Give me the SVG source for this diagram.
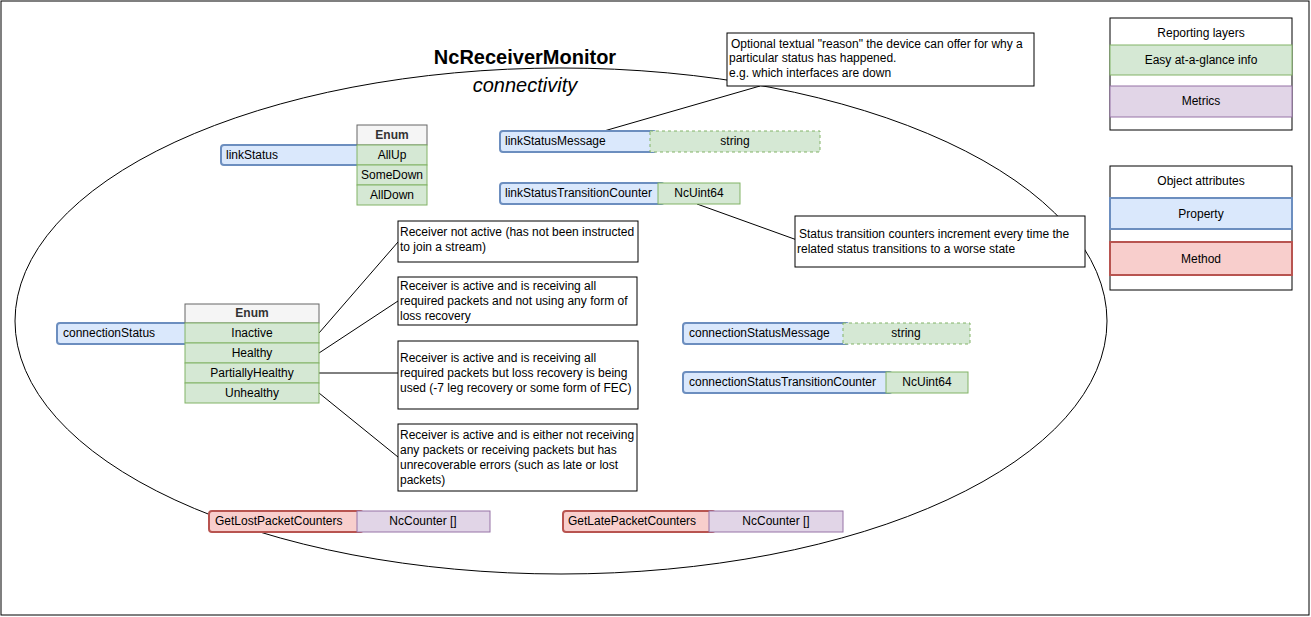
<svg xmlns="http://www.w3.org/2000/svg" width="1311" height="617" viewBox="0 0 1311 617">
<style>
text{font-family:"Liberation Sans",Arial,sans-serif;font-size:12px;fill:#000}
.c{text-anchor:middle}
.p{fill:#dae8fc;stroke:#6c8ebf;stroke-width:2}
.g{fill:#d5e8d4;stroke:#82b366}
.gd{fill:#d5e8d4;stroke:#82b366;stroke-dasharray:3 3}
.u{fill:#e1d5e7;stroke:#9673a6}
.r{fill:#f8cecc;stroke:#b85450;stroke-width:2}
.h{fill:#f5f5f5;stroke:#666}
.n{fill:#fff;stroke:#000}
.l{stroke:#000;fill:none}
</style>
<rect x="1" y="1" width="1308" height="614" fill="#fff" stroke="#000"/>
<ellipse cx="561" cy="321" rx="546" ry="253" fill="none" stroke="#000"/>
<text x="525" y="64" class="c" style="font-size:20px;font-weight:bold">NcReceiverMonitor</text>
<text x="525" y="92" class="c" style="font-size:20px;font-style:italic">connectivity</text>
<g id="connectors">
<path class="l" d="M604 131L760 86M697 204L797 240M319 333L398 242M319 353L398 301M319 373H398M319 393L398 457"/>
</g>
<g id="linkStatus">
<rect class="p" x="221" y="145" width="142" height="20" rx="3"/>
<text x="226" y="159">linkStatus</text>
<rect class="h" x="357" y="125" width="70" height="20"/><text x="392" y="139" class="c" style="font-weight:bold;fill:#333">Enum</text>
<rect class="g" x="357" y="145" width="70" height="20"/><text x="392" y="159" class="c">AllUp</text>
<rect class="g" x="357" y="165" width="70" height="20"/><text x="392" y="179" class="c">SomeDown</text>
<rect class="g" x="357" y="185" width="70" height="20"/><text x="392" y="199" class="c">AllDown</text>
</g>
<g id="reasonNote">
<rect class="n" x="727" y="33" width="307" height="53"/>
<text x="731" y="48"> Optional textual "reason" the device can offer for why a</text>
<text x="729" y="62">particular status has happened.</text>
<text x="729" y="77">e.g. which interfaces are down</text>
</g>
<g id="linkStatusMessage">
<rect class="p" x="500" y="131" width="156" height="21" rx="3"/>
<text x="505" y="145">linkStatusMessage</text>
<rect class="gd" x="650" y="131" width="170" height="21"/><text x="735" y="145" class="c">string</text>
</g>
<g id="linkStatusTransitionCounter">
<rect class="p" x="500" y="183" width="164" height="21" rx="3"/>
<text x="505" y="197">linkStatusTransitionCounter</text>
<rect class="g" x="658" y="183" width="82" height="21"/><text x="699" y="197" class="c">NcUint64</text>
</g>
<g id="transitionNote">
<rect class="n" x="795" y="216" width="290" height="51"/>
<text x="799" y="238">Status transition counters increment every time the</text>
<text x="797" y="253">related status transitions to a worse state</text>
</g>
<g id="connectionStatus">
<rect class="p" x="57" y="323" width="134" height="21" rx="3"/>
<text x="63" y="337">connectionStatus</text>
<rect class="h" x="185" y="304" width="134" height="19"/><text x="252" y="317" class="c" style="font-weight:bold;fill:#333">Enum</text>
<rect class="g" x="185" y="323" width="134" height="20"/><text x="252" y="337" class="c">Inactive</text>
<rect class="g" x="185" y="343" width="134" height="20"/><text x="252" y="357" class="c">Healthy</text>
<rect class="g" x="185" y="363" width="134" height="20"/><text x="252" y="377" class="c">PartiallyHealthy</text>
<rect class="g" x="185" y="383" width="134" height="20"/><text x="252" y="397" class="c">Unhealthy</text>
</g>
<g id="noteInactive">
<rect class="n" x="398" y="221" width="240" height="41"/>
<text x="400" y="236">Receiver not active (has not been instructed</text>
<text x="400" y="251">to join a stream)</text>
</g>
<g id="noteHealthy">
<rect class="n" x="398" y="277" width="239" height="48"/>
<text x="400" y="290">Receiver is active and is receiving all</text>
<text x="400" y="305">required packets and not using any form of</text>
<text x="400" y="320">loss recovery</text>
</g>
<g id="notePartially">
<rect class="n" x="398" y="341" width="240" height="68"/>
<text x="400" y="362">Receiver is active and is receiving all</text>
<text x="400" y="377">required packets but loss recovery is being</text>
<text x="400" y="392">used (-7 leg recovery or some form of FEC)</text>
</g>
<g id="noteUnhealthy">
<rect class="n" x="398" y="424" width="239" height="67"/>
<text x="400" y="439">Receiver is active and is either not receiving</text>
<text x="400" y="454">any packets or receiving packets but has</text>
<text x="400" y="469">unrecoverable errors (such as late or lost</text>
<text x="400" y="484">packets)</text>
</g>
<g id="connectionStatusMessage">
<rect class="p" x="683" y="323" width="166" height="21" rx="3"/>
<text x="689" y="337">connectionStatusMessage</text>
<rect class="gd" x="843" y="323" width="127" height="21"/><text x="906" y="337" class="c">string</text>
</g>
<g id="connectionStatusTransitionCounter">
<rect class="p" x="683" y="372" width="209" height="21" rx="3"/>
<text x="689" y="386">connectionStatusTransitionCounter</text>
<rect class="g" x="886" y="372" width="82" height="21"/><text x="927" y="386" class="c">NcUint64</text>
</g>
<g id="GetLostPacketCounters">
<rect class="r" x="209" y="511" width="154" height="21" rx="3"/>
<text x="215" y="525">GetLostPacketCounters</text>
<rect class="u" x="357" y="511" width="133" height="21"/><text x="423" y="525" class="c">NcCounter []</text>
</g>
<g id="GetLatePacketCounters">
<rect class="r" x="563" y="511" width="152" height="21" rx="3"/>
<text x="568" y="525">GetLatePacketCounters</text>
<rect class="u" x="709" y="511" width="134" height="21"/><text x="776" y="525" class="c">NcCounter []</text>
</g>
<g id="legendLayers">
<rect class="n" x="1110" y="18" width="182" height="112"/>
<text x="1201" y="37" class="c">Reporting layers</text>
<rect class="g" x="1110" y="45" width="182" height="30"/><text x="1201" y="64" class="c">Easy at-a-glance info</text>
<rect class="u" x="1110" y="86" width="182" height="31"/><text x="1201" y="105" class="c">Metrics</text>
</g>
<g id="legendAttributes">
<rect class="n" x="1110" y="166" width="182" height="124"/>
<text x="1201" y="185" class="c">Object attributes</text>
<rect class="p" x="1110" y="198" width="182" height="31"/><text x="1201" y="218" class="c">Property</text>
<rect class="r" x="1110" y="242" width="182" height="33"/><text x="1201" y="263" class="c">Method</text>
</g>
</svg>
